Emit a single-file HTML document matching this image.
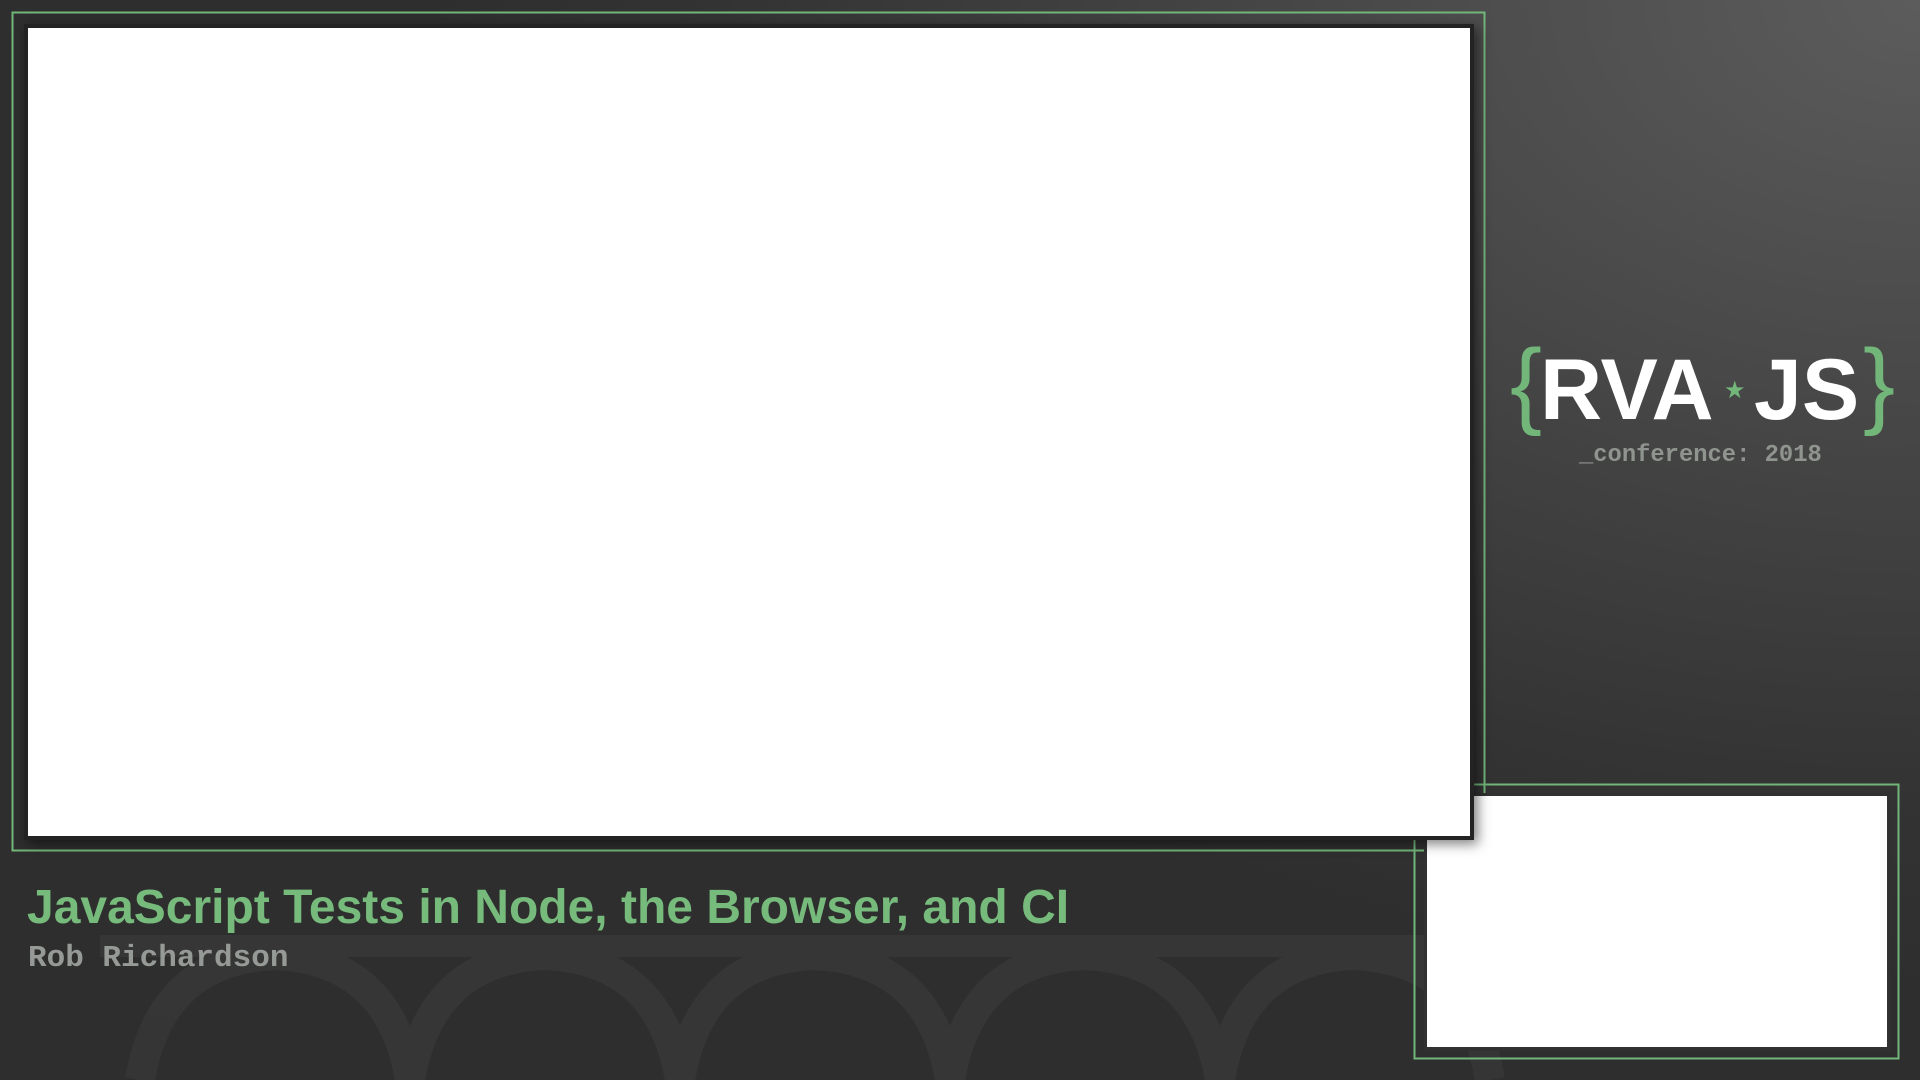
<!DOCTYPE html>
<html><head><meta charset="utf-8"><style>
html,body{margin:0;padding:0;}
body{width:1920px;height:1080px;position:relative;overflow:hidden;
background:radial-gradient(ellipse 1500px 1000px at 1920px 0px,#5c5c5c 0%,#454545 45%,#333 80%,#2e2e2e 100%);
font-family:"Liberation Sans",sans-serif;}
.abs{position:absolute;}
</style></head><body>
<svg class="abs" style="left:0;top:0" width="1920" height="1080">
 <g opacity="0.035" fill="none" stroke="#fff">
  <rect x="100" y="935" width="1340" height="22" fill="#fff" stroke="none"/>
  <path d="M140 1080 Q160 960 275 955 Q390 960 410 1080" stroke-width="30"/>
  <path d="M410 1080 Q430 960 545 955 Q660 960 680 1080" stroke-width="30"/>
  <path d="M680 1080 Q700 960 814 955 Q930 960 950 1080" stroke-width="30"/>
  <path d="M950 1080 Q970 960 1084 955 Q1200 960 1220 1080" stroke-width="30"/>
  <path d="M1220 1080 Q1240 960 1353 955 Q1470 960 1490 1080" stroke-width="30"/>
 </g>
 <rect x="12.5" y="12.5" width="1472" height="838" fill="none" stroke="#72b67a" stroke-width="2"/>
 <rect x="1414.5" y="784.5" width="484" height="274" fill="none" stroke="#72b67a" stroke-width="2"/>
 <rect x="1424" y="793" width="466" height="258" fill="#313131"/>
 <rect x="1427" y="796" width="460" height="251" fill="#fff"/>
 <rect x="24" y="24" width="1450" height="816" fill="#232323" style="filter:drop-shadow(4px 4px 6px rgba(0,0,0,.5))"/>
 <rect x="28" y="28" width="1442" height="808" fill="#fff"/>
</svg>
<div class="abs" style="left:27px;top:880px;font-size:48px;font-weight:bold;color:#76ba7c;white-space:nowrap;">JavaScript Tests in Node, the Browser, and CI</div>
<div class="abs" style="left:28px;top:941px;font-family:'Liberation Mono',monospace;font-size:31px;font-weight:bold;color:#969a96;white-space:nowrap;">Rob Richardson</div>
<div class="abs" style="left:1510px;top:336px;font-size:96px;color:#72b67a;line-height:1;">{</div>
<div class="abs" style="left:1863px;top:336px;font-size:96px;color:#72b67a;line-height:1;">}</div>
<div class="abs" style="left:1540px;top:347px;font-size:86px;font-weight:bold;color:#fff;line-height:1;white-space:nowrap;">RVA</div>
<div class="abs" style="left:1724px;top:379px;font-size:24px;color:#72b67a;line-height:1;">★</div>
<div class="abs" style="left:1754px;top:347px;font-size:86px;font-weight:bold;color:#fff;line-height:1;white-space:nowrap;">JS</div>
<div class="abs" style="left:1579px;top:442px;font-family:'Liberation Mono',monospace;font-size:23.8px;font-weight:bold;color:#8f948f;white-space:nowrap;">_conference: 2018</div>
</body></html>
